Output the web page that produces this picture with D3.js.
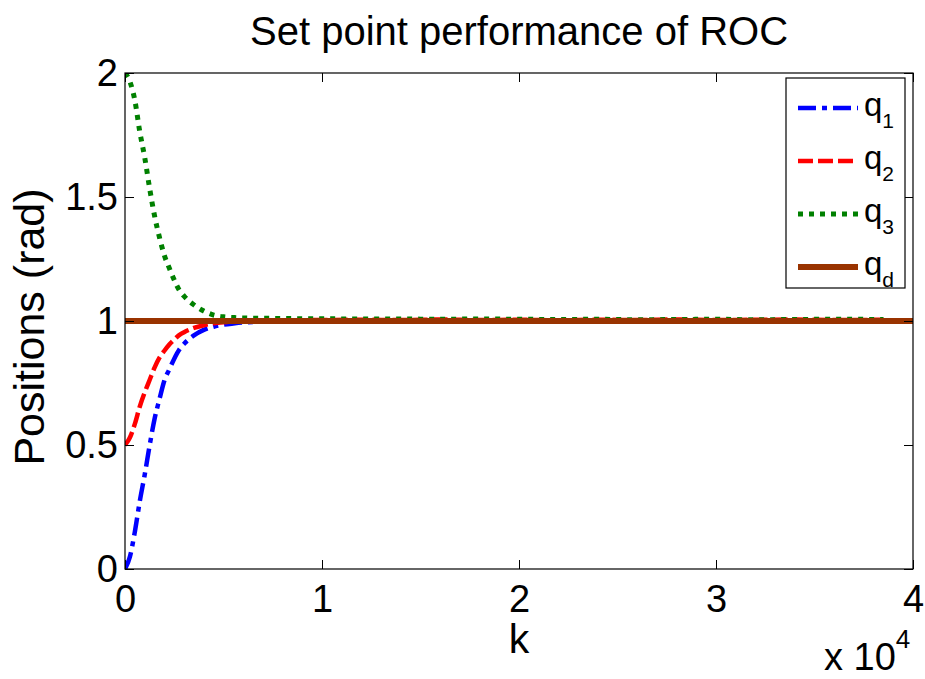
<!DOCTYPE html>
<html>
<head>
<meta charset="utf-8">
<script src="https://cdn.jsdelivr.net/npm/d3@7"></script>
<style>
  html, body { margin: 0; padding: 0; background: #fff; }
  svg { display: block; font-family: "Liberation Sans", Arial, Helvetica, sans-serif; }
</style>
</head>
<body>
<svg id="chart" width="925" height="679"></svg>
<script>
// ---- data ----
const kValues = [0, 250, 500, 750, 1000, 1250, 1500, 1750, 2000, 2250, 2500, 2750, 3000, 3500, 4000, 4500, 5000, 5500, 6000, 7000, 8000,
  10000, 12000, 14000, 16000, 18000, 20000, 22000, 24000, 26000, 28000, 30000, 32000, 34000, 36000, 38500];
const q1Values = [0, 0.05, 0.15, 0.273, 0.38, 0.498, 0.605, 0.685, 0.76, 0.805, 0.848, 0.884, 0.908, 0.942, 0.964, 0.977, 0.985, 0.99, 0.994, 0.997, 0.999,
  1.0, 0.998, 1.0, 1.001, 0.999, 1.0, 0.998, 1.0, 1.001, 0.999, 1.0, 0.998, 1.0, 0.999, 1.0];
const q2Values = [0.5, 0.53, 0.585, 0.655, 0.712, 0.762, 0.812, 0.852, 0.88, 0.905, 0.925, 0.943, 0.955, 0.972, 0.983, 0.991, 0.995, 0.997, 0.999, 1.0, 1.002,
  1.004, 1.005, 1.004, 1.006, 1.004, 1.005, 1.003, 1.005, 1.004, 1.006, 1.004, 1.005, 1.006, 1.004, 1.005];
const q3Values = [2.0, 1.965, 1.89, 1.763, 1.66, 1.535, 1.424, 1.337, 1.264, 1.213, 1.165, 1.125, 1.10, 1.065, 1.04, 1.024, 1.017, 1.014, 1.012, 1.011, 1.01,
  1.009, 1.008, 1.008, 1.007, 1.008, 1.007, 1.006, 1.007, 1.005, 1.006, 1.007, 1.005, 1.006, 1.007, 1.006];
const kdValues = [0, 40000];
const qdValues = [1, 1];

const seriesNames = ["q1", "q2", "q3", "qd"];
const seriesSubs = ["1", "2", "3", "d"];
const seriesColors = ["#0000ff", "#ff0000", "#008000", "#993300"];

const xTicks = [0, 10000, 20000, 30000, 40000];
const xTickLabels = ["0", "1", "2", "3", "4"];
const yTicks = [0, 0.5, 1, 1.5, 2];
const yTickLabels = ["0", "0.5", "1", "1.5", "2"];

const titleText = "Set point performance of ROC";
const xLabelText = "k";
const yLabelText = "Positions (rad)";

// ---- layout ----
const svg = d3.select("#chart");
const L = 125, R = 913, T = 73, B = 569;
const x = d3.scaleLinear().domain([0, 40000]).range([L, R]);
const y = d3.scaleLinear().domain([0, 2]).range([B, T]);

svg.append("defs").append("clipPath").attr("id", "clip")
  .append("rect").attr("x", L).attr("y", T).attr("width", R - L).attr("height", B - T);

const styles = [
  { w: 4.5, dash: "18,6,5,6" },
  { w: 4.5, dash: "15,5" },
  { w: 5, dash: "5,6" },
  { w: 6, dash: null }
];

const line = d3.line().x(d => x(d[0])).y(d => y(d[1])).curve(d3.curveMonotoneX);
const seriesData = [
  d3.zip(kValues, q1Values),
  d3.zip(kValues, q2Values),
  d3.zip(kValues, q3Values),
  d3.zip(kdValues, qdValues)
];

const plot = svg.append("g").attr("clip-path", "url(#clip)");
seriesData.forEach((data, i) => {
  plot.append("path")
    .datum(data)
    .attr("d", line)
    .attr("fill", "none")
    .attr("stroke", seriesColors[i])
    .attr("stroke-width", styles[i].w)
    .attr("stroke-dasharray", styles[i].dash)
    .attr("stroke-linecap", "butt");
});

// ---- axes ----
const fontTick = 38;
const ax = svg.append("g");
ax.append("g").attr("transform", `translate(0,${B})`)
  .call(d3.axisBottom(x).tickValues(xTicks).tickFormat((d, i) => xTickLabels[i]).tickSize(-9).tickPadding(16));
ax.append("g").attr("transform", `translate(${L},0)`)
  .call(d3.axisLeft(y).tickValues(yTicks).tickFormat((d, i) => yTickLabels[i]).tickSize(-9).tickPadding(7));
ax.append("g").attr("transform", `translate(0,${T})`)
  .call(d3.axisTop(x).tickValues(xTicks).tickFormat("").tickSize(-9));
ax.append("g").attr("transform", `translate(${R},0)`)
  .call(d3.axisRight(y).tickValues(yTicks).tickFormat("").tickSize(-9));
ax.selectAll(".domain").remove();
ax.selectAll(".tick line").attr("stroke", "#000").attr("stroke-width", 1);
ax.selectAll(".tick text").attr("font-size", fontTick).attr("font-family", "Liberation Sans, Arial, sans-serif").attr("fill", "#000");

svg.append("rect").attr("x", L).attr("y", T).attr("width", R - L).attr("height", B - T)
  .attr("fill", "none").attr("stroke", "#000").attr("stroke-width", 1.2);

// ---- labels ----
svg.append("text").attr("x", (L + R) / 2).attr("y", 45).attr("text-anchor", "middle")
  .attr("font-size", 40).text(titleText);
svg.append("text").attr("x", (L + R) / 2).attr("y", 653).attr("text-anchor", "middle")
  .attr("font-size", 41).text(xLabelText);
svg.append("text").attr("transform", `translate(44,327) rotate(-90)`).attr("text-anchor", "middle")
  .attr("font-size", 43).text(yLabelText);
const expText = svg.append("text").attr("x", 824).attr("y", 670).attr("font-size", 38);
expText.append("tspan").text("x 10");
expText.append("tspan").attr("font-size", 26).attr("dy", -22).text("4");

// ---- legend ----
const lg = svg.append("g");
lg.append("rect").attr("x", 786).attr("y", 78).attr("width", 119).attr("height", 210)
  .attr("fill", "#fff").attr("stroke", "#000").attr("stroke-width", 1.2);
const rowY = [108, 161, 214, 267];
seriesNames.forEach((n, i) => {
  lg.append("line").attr("x1", 798).attr("x2", 858).attr("y1", rowY[i]).attr("y2", rowY[i])
    .attr("stroke", seriesColors[i]).attr("stroke-width", styles[i].w)
    .attr("stroke-dasharray", styles[i].dash);
  const t = lg.append("text").attr("x", 864).attr("y", rowY[i] + 8).attr("font-size", 33);
  t.append("tspan").text("q");
  t.append("tspan").attr("font-size", 21).attr("dy", 12).text(seriesSubs[i]);
});
</script>
</body>
</html>
